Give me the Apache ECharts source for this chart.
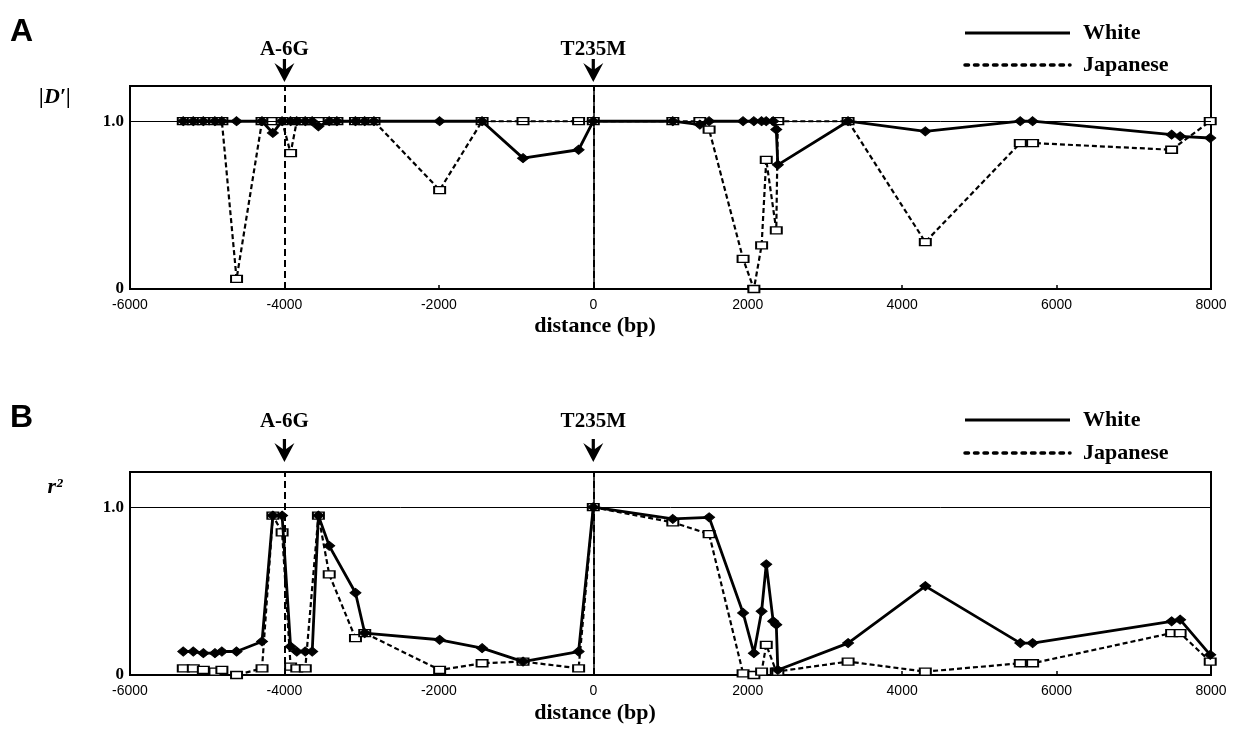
<!DOCTYPE html>
<html><head><meta charset="utf-8">
<script src="https://cdn.jsdelivr.net/npm/echarts@6/dist/echarts.min.js"></script>
<style>html,body{margin:0;padding:0;background:#fff}#c{width:1233px;height:732px}</style>
</head><body><div id="c"></div>
<script>
// SNP positions (bp, relative to T235M)
const positions = [-5310,-5180,-5050,-4900,-4810,-4620,-4290,-4150,-4030,-3920,-3840,-3730,-3640,-3560,-3420,-3320,-3080,-2960,-2840,-1990,-1440,-910,-190,0,1030,1380,1500,1940,2080,2180,2240,2330,2370,2390,3300,4300,5530,5690,7490,7600,7990];
// |D'| panel A
const whiteDprime    = [1,1,1,1,1,1,1,0.93,1,1,1,1,1,0.97,1,1,1,1,1,1,1,0.78,0.83,1,1,0.98,1,1,1,1,1,1,0.95,0.74,1,0.94,1,1,0.92,0.91,0.9];
const japaneseDprime = [1,1,1,1,1,0.06,1,1,1,0.81,1,1,1,1,1,1,1,1,1,0.59,1,1,1,1,1,1,0.95,0.18,0.0,0.26,0.77,null,0.35,1.0,1,0.28,0.87,0.87,0.83,null,1.0];
// r^2 panel B
const whiteR2    = [0.14,0.14,0.13,0.13,0.14,0.14,0.2,0.95,0.95,0.17,0.14,0.14,0.14,0.95,0.77,null,0.49,0.25,null,0.21,0.16,0.08,0.14,1.0,0.93,null,0.94,0.37,0.13,0.38,0.66,0.32,0.30,0.03,0.19,0.53,0.19,0.19,0.32,0.33,0.12];
const japaneseR2 = [0.04,0.04,0.03,0.02,0.03,0.0,0.04,0.95,0.85,0.05,0.04,0.04,null,0.95,0.60,null,0.22,0.25,null,0.03,0.07,0.08,0.04,1.0,0.91,null,0.84,0.01,0.0,0.02,0.18,null,0.02,0.02,0.08,0.02,0.07,0.07,0.25,0.25,0.08];
const xTicks = [-6000,-4000,-2000,0,2000,4000,6000,8000];
const yTickValues = [0, 1];
const yTickLabels = ['0', '1.0'];
const markers = [{name:'A-6G', x:-4000},{name:'T235M', x:0}];
const seriesNames = ['White','Japanese'];

const chart = echarts.init(document.getElementById('c'), null, {renderer:'canvas'});
const pairs = arr => positions.map((p,i)=>[p, arr[i]]).filter(d=>d[1]!==null);
const grids = [{left:130, top:86, width:1081, height:203}, {left:130, top:472, width:1081, height:203}];
const serif = 'Liberation Serif';
const sans = 'Liberation Sans';

function xAx(i){return {type:'value', gridIndex:i, min:-6000, max:8000,
  axisLine:{show:true, onZero:false, lineStyle:{color:'#000', width:2}},
  axisTick:{show:true, customValues:xTicks, inside:true, length:4, lineStyle:{color:'#000', width:1.5}},
  axisLabel:{customValues:xTicks, formatter:v=>String(v), color:'#000', fontFamily:sans, fontSize:14, margin:9},
  splitLine:{show:false}};}
function yAx(i){return {type:'value', gridIndex:i, min:0, max:1.21,
  axisLine:{show:true, lineStyle:{color:'#000', width:1.5}},
  axisTick:{show:false},
  axisLabel:{customValues:yTickValues, formatter:v=>yTickLabels[yTickValues.indexOf(v)], color:'#000', fontFamily:serif, fontWeight:'bold', fontSize:17, margin:6},
  splitLine:{show:false}};}

function panelSeries(i, w, j){
  return [
    {type:'line', xAxisIndex:i, yAxisIndex:i, data:[], silent:true,
      markLine:{silent:true, symbol:'none', label:{show:false},
        data:[{yAxis:1, lineStyle:{type:'solid', width:1, color:'#000'}},
              ...markers.map(m=>({xAxis:m.x, lineStyle:{type:[7,4], width:2, color:'#000'}}))]}},
    {type:'line', name:seriesNames[1], xAxisIndex:i, yAxisIndex:i, data:pairs(j), z:3,
      lineStyle:{color:'#000', width:2.2, type:[5,3]}, symbol:'rect', symbolSize:[11,7],
      itemStyle:{color:'#fff', borderColor:'#000', borderWidth:1.6}},
    {type:'line', name:seriesNames[0], xAxisIndex:i, yAxisIndex:i, data:pairs(w), z:4,
      lineStyle:{color:'#000', width:2.8}, symbol:'diamond', symbolSize:[11,9],
      itemStyle:{color:'#000', borderColor:'#000'}}
  ];
}

chart.setOption({
  animation:false,
  backgroundColor:'#fff',
  grid: grids.map(g=>Object.assign({show:true, borderColor:'#000', borderWidth:2, backgroundColor:'transparent'}, g)),
  xAxis:[xAx(0), xAx(1)],
  yAxis:[yAx(0), yAx(1)],
  series:[...panelSeries(0, whiteDprime, japaneseDprime), ...panelSeries(1, whiteR2, japaneseR2)]
});

// annotations placed via the axes
const g = [];
const panelCfg = [
  {label:'A', labelY:32, yname:"|D′|", ynameY:97, textY:50, tipY:82, legY:[33,65], titleY:326},
  {label:'B', labelY:418, yname:'r²', ynameY:487, textY:422, tipY:462, legY:[420,453], titleY:713}
];
panelCfg.forEach((p, i)=>{
  g.push({type:'text', left:10, top:p.labelY-16, style:{text:p.label, font:'bold 32px '+sans, fill:'#000'}});
  g.push({type:'text', x:55, y:p.ynameY, style:{text:p.yname, font:'italic bold 22px '+serif, fill:'#000', align:'center', verticalAlign:'middle'}});
  markers.forEach(m=>{
    const x = chart.convertToPixel({xAxisIndex:i, yAxisIndex:i}, [m.x, 0])[0];
    g.push({type:'text', x:x, y:p.textY, style:{text:m.name, font:'bold 21px '+serif, fill:'#000', align:'center', verticalAlign:'middle'}});
    const t = p.tipY;
    g.push({type:'polygon', shape:{points:[[x,t],[x-10,t-19],[x-1.6,t-13],[x-1.6,t-23],[x+1.6,t-23],[x+1.6,t-13],[x+10,t-19]]}, style:{fill:'#000'}});
  });
  // legend
  g.push({type:'line', shape:{x1:965, y1:p.legY[0], x2:1070, y2:p.legY[0]}, style:{stroke:'#000', lineWidth:3}});
  g.push({type:'text', x:1083, y:p.legY[0], style:{text:seriesNames[0], font:'bold 22px '+serif, fill:'#000', verticalAlign:'middle'}});
  g.push({type:'line', shape:{x1:965, y1:p.legY[1], x2:1070, y2:p.legY[1]}, style:{stroke:'#000', lineWidth:3.5, lineDash:[3.5,6], lineCap:'round'}});
  g.push({type:'text', x:1083, y:p.legY[1], style:{text:seriesNames[1], font:'bold 22px '+serif, fill:'#000', verticalAlign:'middle'}});
  g.push({type:'text', x:595, y:p.titleY, style:{text:'distance (bp)', font:'bold 22px '+serif, fill:'#000', align:'center', verticalAlign:'middle'}});
});
chart.setOption({graphic:g});
</script></body></html>
